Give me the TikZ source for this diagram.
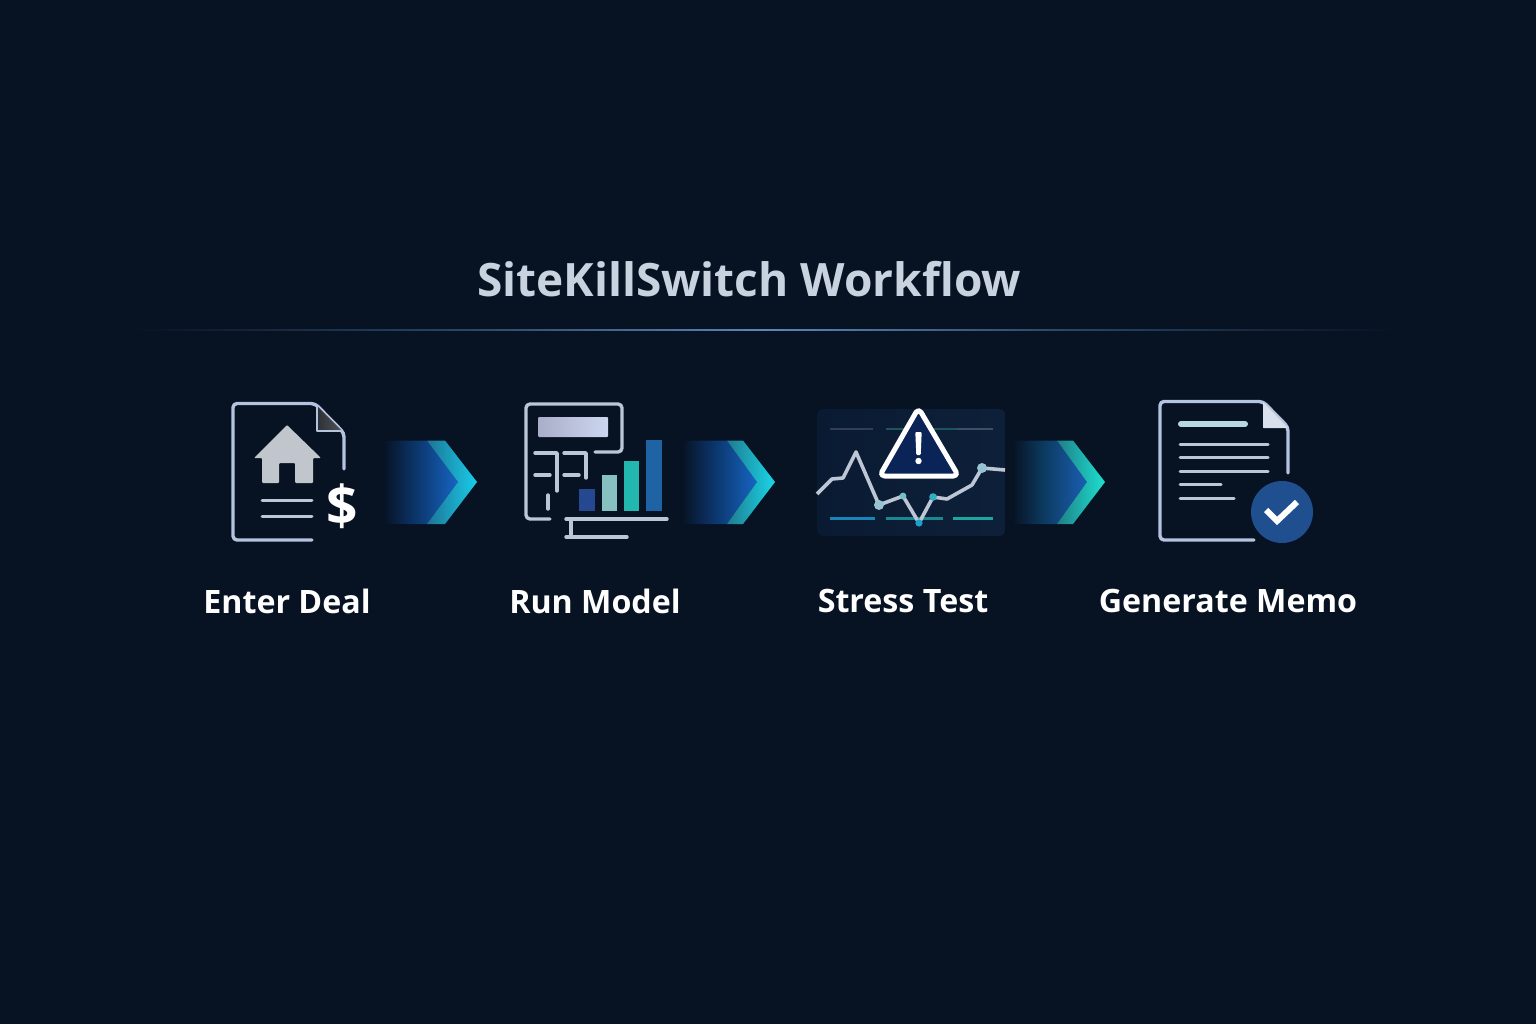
\documentclass[tikz,border=0pt]{standalone}
\usepackage{fontspec}
\setmainfont{Open Sans}
\definecolor{bg}{HTML}{071222}
\definecolor{outline}{HTML}{B4C4E0}
\definecolor{iconline}{HTML}{BCC6D4}
\definecolor{titlec}{HTML}{C9D2DF}
\definecolor{bodyMidA}{HTML}{0B3468}
\definecolor{bodyEndA}{HTML}{1765C4}
\definecolor{bodyMidC}{HTML}{0C3A60}
\definecolor{bodyEndC}{HTML}{1A5FB4}
\definecolor{ruleSide}{HTML}{2A4666}
\definecolor{ruleMid}{HTML}{5F86B8}
\definecolor{bandA}{HTML}{1E7496}
\definecolor{tipA}{HTML}{18CDEA}
\definecolor{bandB}{HTML}{1F7C90}
\definecolor{tipB}{HTML}{1AD6E8}
\definecolor{bandC}{HTML}{1F7F88}
\definecolor{tipC}{HTML}{1EE0D0}
\definecolor{foldDark}{HTML}{2D3034}
\definecolor{foldLight}{HTML}{505458}
\definecolor{houseC}{HTML}{C0C6CC}
\definecolor{dispL}{HTML}{AAAEC8}
\definecolor{dispR}{HTML}{CDD6F0}
\definecolor{barA}{HTML}{264891}
\definecolor{barB}{HTML}{86C0C0}
\definecolor{barC}{HTML}{22B8B0}
\definecolor{barD}{HTML}{1E64A5}
\definecolor{panelL}{HTML}{0A1A33}
\definecolor{panelR}{HTML}{0E2039}
\definecolor{gridA}{HTML}{323E55}
\definecolor{gridB}{HTML}{19555A}
\definecolor{gridC}{HTML}{3E4E64}
\definecolor{lowA}{HTML}{1A84B8}
\definecolor{lowB}{HTML}{1C8791}
\definecolor{lowC}{HTML}{1EA5A0}
\definecolor{dotA}{HTML}{96C3D2}
\definecolor{dotB}{HTML}{78BEC8}
\definecolor{dotC}{HTML}{1EA0CD}
\definecolor{dotD}{HTML}{32AFBE}
\definecolor{warnFill}{HTML}{0A2458}
\definecolor{memoFold}{HTML}{D8E0EC}
\definecolor{memoHead}{HTML}{B8D8E0}
\definecolor{memoBadge}{HTML}{1F4F8F}
% TikZ maps a path's bounding box onto 25bp..75bp of a declared shading
\pgfdeclarehorizontalshading{bodyA}{100bp}{color(0bp)=(bg); color(27bp)=(bg); color(47bp)=(bodyMidA); color(75bp)=(bodyEndA); color(100bp)=(bodyEndA)}
\pgfdeclarehorizontalshading{bodyC}{100bp}{color(0bp)=(bg); color(27bp)=(bg); color(47bp)=(bodyMidC); color(75bp)=(bodyEndC); color(100bp)=(bodyEndC)}
\pgfdeclarehorizontalshading{ruleS}{100bp}{color(0bp)=(bg); color(25bp)=(bg); color(38bp)=(ruleSide); color(50bp)=(ruleMid); color(62bp)=(ruleSide); color(75bp)=(bg); color(100bp)=(bg)}
\tikzset{
  title/.style={font=\bfseries\fontsize{46}{52}\selectfont,text=titlec,inner sep=0pt},
  steplabel/.style={font=\bfseries\fontsize{32.2}{38}\selectfont,text=white,inner sep=0pt},
  docline/.style={draw=outline,line width=3.4pt,line cap=round,line join=round},
  calcline/.style={draw=iconline,line width=3.4pt,line cap=round,line join=round},
  textline/.style={draw=iconline,line width=3pt,line cap=round},
}
% left, inner start, corner, inner tip, tip, body shading, band left, band right
\newcommand{\flowchevron}[8]{%
  \path[shading=#6] (#1,440.5) -- (#2,440.5) -- (#4,482) -- (#2,524) -- (#1,524) -- cycle;
  \path[left color=#7,right color=#8] (#2,440.5) -- (#3,440.5) -- (#5,482) -- (#3,524) -- (#2,524) -- (#4,482) -- cycle;
}
\begin{document}
\begin{tikzpicture}[x=1pt,y=-1pt]
\useasboundingbox (0,0) rectangle (1536,1024);
\fill[bg] (0,0) rectangle (1536,1024);
% title and rule
\node[title] (title) at (749,279) {SiteKillSwitch Workflow};
\path[shading=ruleS] (130,329.2) rectangle (1400,330.8);

% --- Enter Deal icon
\draw[docline,rounded corners=4pt] (344,469) -- (344,433) -- (315,403.5) -- (233,403.5) -- (233,540) -- (312,540);
\path[left color=foldDark,right color=foldLight] (317,406) -- (317,431) -- (342,431) -- cycle;
\draw[outline,line width=2.6pt,line join=round] (317,406) -- (317,431) -- (342,431);
\fill[houseC,rounded corners=1pt] (287,425) -- (321,458) -- (313,458) -- (313,483) -- (295,483) -- (295,463) -- (279,463) -- (279,483) -- (262,483) -- (262,458) -- (254,458) -- cycle;
\draw[textline] (262,500) -- (312,500);
\draw[textline] (262,516) -- (312,516);
\node[font=\bfseries\fontsize{55}{55}\selectfont,text=white,inner sep=0pt] (dollar) at (342,506) {\$};

\flowchevron{380}{427}{445}{458}{477}{bodyA}{bandA}{tipA}

% --- Run Model icon
\draw[calcline,rounded corners=4pt] (550,519) -- (526,519) -- (526,404) -- (622,404) -- (622,452) -- (595,452);
\path[left color=dispL,right color=dispR,rounded corners=1pt] (538,417) rectangle (608,437);
\draw[calcline] (535,453) -- (557,453) -- (557,491);
\draw[calcline] (564,453) -- (586,453) -- (586,478);
\draw[calcline] (535,475) -- (550,475);
\draw[calcline] (564,475) -- (579,475);
\draw[calcline] (548,495) -- (548,509);
\fill[barA] (579,489) rectangle (595,511);
\fill[barB] (602,475) rectangle (617,511);
\fill[barC] (624,461) rectangle (639,511);
\fill[barD] (646,440) rectangle (662,511);
\draw[calcline] (566,519) -- (667,519);
\draw[calcline] (571,519) -- (571,537);
\draw[calcline] (566,537) -- (627,537);

\flowchevron{678}{727}{743}{757}{775}{bodyA}{bandB}{tipB}

% --- Stress Test icon
\path[rounded corners=6pt,left color=panelL,right color=panelR] (817,409) rectangle (1005,536);
\draw[line width=2.6pt,gridA] (830,429) -- (873,429);
\draw[line width=2.6pt,gridB] (886,429) -- (957,429);
\draw[line width=2.6pt,gridC] (957,429) -- (993,429);
\draw[line width=3pt,lowA] (830,518) -- (875,518);
\draw[line width=3pt,lowB] (886,518) -- (943,518);
\draw[line width=3pt,lowC] (953,518) -- (993,518);
\draw[line width=3.6pt,iconline,line join=round] (817,494) -- (832,479) -- (843,478) -- (856,452) -- (879,505) -- (903,496) -- (919,523) -- (933,497) -- (947,499) -- (972,485) -- (982,468) -- (1005,470);
\fill[dotA] (879,505) circle (5);
\fill[dotB] (903,496) circle (3.4);
\fill[dotC] (919,523) circle (3.6);
\fill[dotD] (933,497) circle (3.8);
\fill[dotA] (982,468) circle (5);
\draw[white,line width=5pt,line join=round,rounded corners=5pt,fill=warnFill] (918.5,408) -- (958.5,476) -- (879.5,476) -- cycle;
\fill[white,rounded corners=1pt] (915.3,432) -- (921.7,432) -- (920.7,455) -- (916.3,455) -- cycle;
\fill[white] (918.5,461) circle (3.2);

\flowchevron{1009}{1057}{1073}{1087}{1105}{bodyC}{bandC}{tipC}

% --- Generate Memo icon
\draw[docline,rounded corners=4pt] (1288,473) -- (1288,427) -- (1263,401.5) -- (1160,401.5) -- (1160,540) -- (1254,540);
\fill[memoFold,rounded corners=0.5pt] (1263,402) -- (1263,428) -- (1288,428) -- cycle;
\draw[line width=6pt,line cap=round,memoHead] (1181,424) -- (1245,424);
\draw[textline] (1180,444) -- (1268,444);
\draw[textline] (1180,457) -- (1268,457);
\draw[textline] (1180,471) -- (1268,471);
\draw[textline] (1180,484) -- (1221,484);
\draw[textline] (1180,498) -- (1234,498);
\fill[memoBadge] (1282,512) circle (31);
\draw[white,line width=6pt,line join=miter] (1266,510) -- (1277,521) -- (1297,502);

% --- labels
\node[steplabel] (deal) at (287,601) {Enter Deal};
\node[steplabel] (model) at (595,601) {Run Model};
\node[steplabel] (stress) at (903,601) {Stress Test};
\node[steplabel] (memo) at (1228,601) {Generate Memo};
\end{tikzpicture}
\end{document}
